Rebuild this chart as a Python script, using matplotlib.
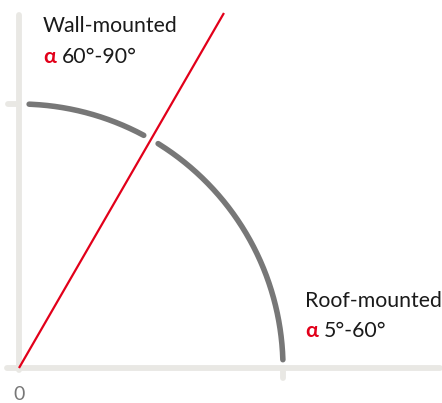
import numpy as np
import matplotlib
matplotlib.use("Agg")
import matplotlib.pyplot as plt

# Data
wall_label = "Wall-mounted"
wall_range = "60°-90°"
roof_label = "Roof-mounted"
roof_range = "5°-60°"
origin_label = "0"
divider_angle = 60.0          # degrees, red line
arc_segments = [(1.8, 58.2), (61.8, 87.8)]  # degrees
radius = 1.0

AXIS_C = "#e9e8e4"
ARC_C = "#777777"
RED = "#e2001a"
TXT = "#1a1a1a"

fig = plt.figure(figsize=(4.42, 4.03), dpi=100)
ax = fig.add_axes([0, 0, 1, 1])
S = 264.0  # px per unit
ox, oy = 19.0, 368.0
ax.set_xlim(-ox / S, (442 - ox) / S)
ax.set_ylim((oy - 403) / S, oy / S)
ax.axis("off")

def px(x):
    return (x - ox) / S

def py(y):
    return (oy - y) / S

# axes
kw = dict(color=AXIS_C, lw=4.2, solid_capstyle="round", zorder=1)
ax.plot([0, 0], [py(370), py(15)], **kw)
ax.plot([px(7), px(440)], [0, 0], **kw)
ax.plot([radius, radius], [0, py(378)], **kw)
ax.plot([px(8), 0], [radius, radius], **kw)

# arc
for a0, a1 in arc_segments:
    t = np.radians(np.linspace(a0, a1, 200))
    ax.plot(radius * np.cos(t), radius * np.sin(t), color=ARC_C, lw=4.0,
            solid_capstyle="round", zorder=2)

# red line
th = np.radians(divider_angle)
L = py(13) / np.sin(th)
ax.plot([0, L * np.cos(th)], [0, L * np.sin(th)], color=RED, lw=1.6,
        solid_capstyle="butt", zorder=3)

fam = ["Lato", "DejaVu Sans"]
fs = 15.3
ax.text(px(43), py(31.7), wall_label, fontsize=fs, family=fam, color=TXT, va="baseline")
ax.text(px(43), py(63.3), "α", fontsize=fs, family=fam, color=RED, weight="bold", va="baseline")
ax.text(px(62), py(63.3), wall_range, fontsize=fs, family=fam, color=TXT, va="baseline")

ax.text(px(305), py(306.7), roof_label, fontsize=fs, family=fam, color=TXT, va="baseline")
ax.text(px(305), py(337), "α", fontsize=fs, family=fam, color=RED, weight="bold", va="baseline")
ax.text(px(324), py(337), roof_range, fontsize=fs, family=fam, color=TXT, va="baseline")

ax.text(0, py(400), origin_label, fontsize=14, family=fam, color=ARC_C, va="baseline", ha="center")

fig.savefig("out.png", dpi=100, facecolor="white")
